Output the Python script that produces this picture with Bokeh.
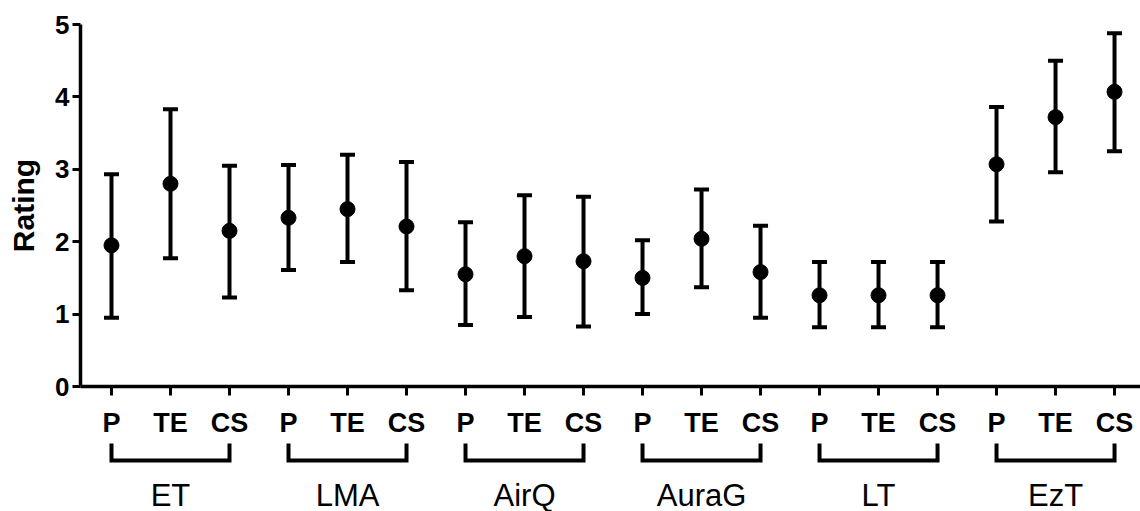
from bokeh.plotting import figure
from bokeh.models import (Range1d, FixedTicker, ColumnDataSource, Whisker, TeeHead)
from bokeh.layouts import column
from bokeh.embed import file_html
from bokeh.resources import INLINE
from bokeh.core.properties import value

# ---- data ----
groups = ["ET", "LMA", "AirQ", "AuraG", "LT", "EzT"]
conditions = ["P", "TE", "CS"]
means = [1.95, 2.80, 2.15,
         2.33, 2.45, 2.21,
         1.55, 1.80, 1.73,
         1.50, 2.04, 1.58,
         1.26, 1.26, 1.26,
         3.07, 3.72, 4.07]
upper = [2.93, 3.83, 3.05,
         3.06, 3.20, 3.10,
         2.27, 2.64, 2.62,
         2.02, 2.72, 2.22,
         1.72, 1.72, 1.72,
         3.86, 4.50, 4.88]
lower = [0.95, 1.77, 1.23,
         1.61, 1.72, 1.33,
         0.85, 0.96, 0.83,
         1.00, 1.37, 0.95,
         0.82, 0.82, 0.82,
         2.28, 2.96, 3.25]
y_ticks = [0, 1, 2, 3, 4, 5]
y_label = "Rating"

FONT = "Liberation Sans"
n = len(groups) * len(conditions)
xs = list(range(1, n + 1))
labels = [conditions[i % 3] for i in range(n)]

x_range = Range1d(0.4746, 18.44)

p = figure(width=1140, height=440, x_range=x_range, y_range=Range1d(0, 5),
           output_backend="svg", toolbar_location=None,
           min_border_left=80, min_border_right=0, min_border_top=24, min_border_bottom=54)
p.outline_line_color = None
p.grid.visible = False
p.background_fill_color = "white"
p.border_fill_color = "white"

src = ColumnDataSource(dict(x=xs, m=means, hi=upper, lo=lower))
wh = Whisker(source=src, base="x", upper="hi", lower="lo", dimension="height",
             line_width=4, line_color="black",
             upper_head=TeeHead(size=15, line_width=4, line_color="black"),
             lower_head=TeeHead(size=15, line_width=4, line_color="black"))
p.add_layout(wh)
p.scatter("x", "m", source=src, size=15, color="black")

# axes
xa = p.xaxis[0]
xa.ticker = FixedTicker(ticks=xs)
xa.major_label_overrides = {x: l for x, l in zip(xs, labels)}
xa.minor_tick_line_color = None
xa.major_tick_in = 0
xa.major_tick_out = 9
xa.major_tick_line_width = 3
xa.axis_line_width = 3.5
xa.major_label_text_font = FONT
xa.major_label_text_font_style = "bold"
xa.major_label_text_font_size = "27px"
xa.major_label_text_color = "black"
xa.major_label_standoff = 12

ya = p.yaxis[0]
ya.ticker = FixedTicker(ticks=y_ticks)
ya.minor_tick_line_color = None
ya.major_tick_in = 0
ya.major_tick_out = 8
ya.major_tick_line_width = 3
ya.axis_line_width = 3.5
ya.major_label_text_font = FONT
ya.major_label_text_font_style = "bold"
ya.major_label_text_font_size = "26px"
ya.major_label_text_color = "black"
ya.major_label_standoff = 3
ya.axis_label = y_label
ya.axis_label_text_font = FONT
ya.axis_label_text_font_style = "bold"
ya.axis_label_text_font_size = "30px"
ya.axis_label_text_color = "black"
ya.axis_label_standoff = 12

# ---- group brackets and labels ----
H2 = 71
p2 = figure(width=1140, height=H2, x_range=x_range, y_range=Range1d(H2, 0),
            output_backend="svg", toolbar_location=None,
            min_border_left=80, min_border_right=0, min_border_top=0, min_border_bottom=0)
p2.outline_line_color = None
p2.grid.visible = False
p2.axis.visible = False

bx, by, gx = [], [], []
for gi in range(len(groups)):
    a = xs[gi * 3]
    b = xs[gi * 3 + 2]
    bx.append([a, a, b, b])
    by.append([3, 20, 20, 3])
    gx.append(xs[gi * 3 + 1])
p2.multi_line(bx, by, line_width=4, line_color="black", line_join="miter")
p2.text(x=gx, y=[54.5] * len(groups), text=groups, text_align="center",
        text_baseline="middle", text_font=value(FONT), text_font_size="31px",
        text_color="black")

layout = column(p, p2, spacing=0)
open("out.html", "w").write(file_html(layout, INLINE))
